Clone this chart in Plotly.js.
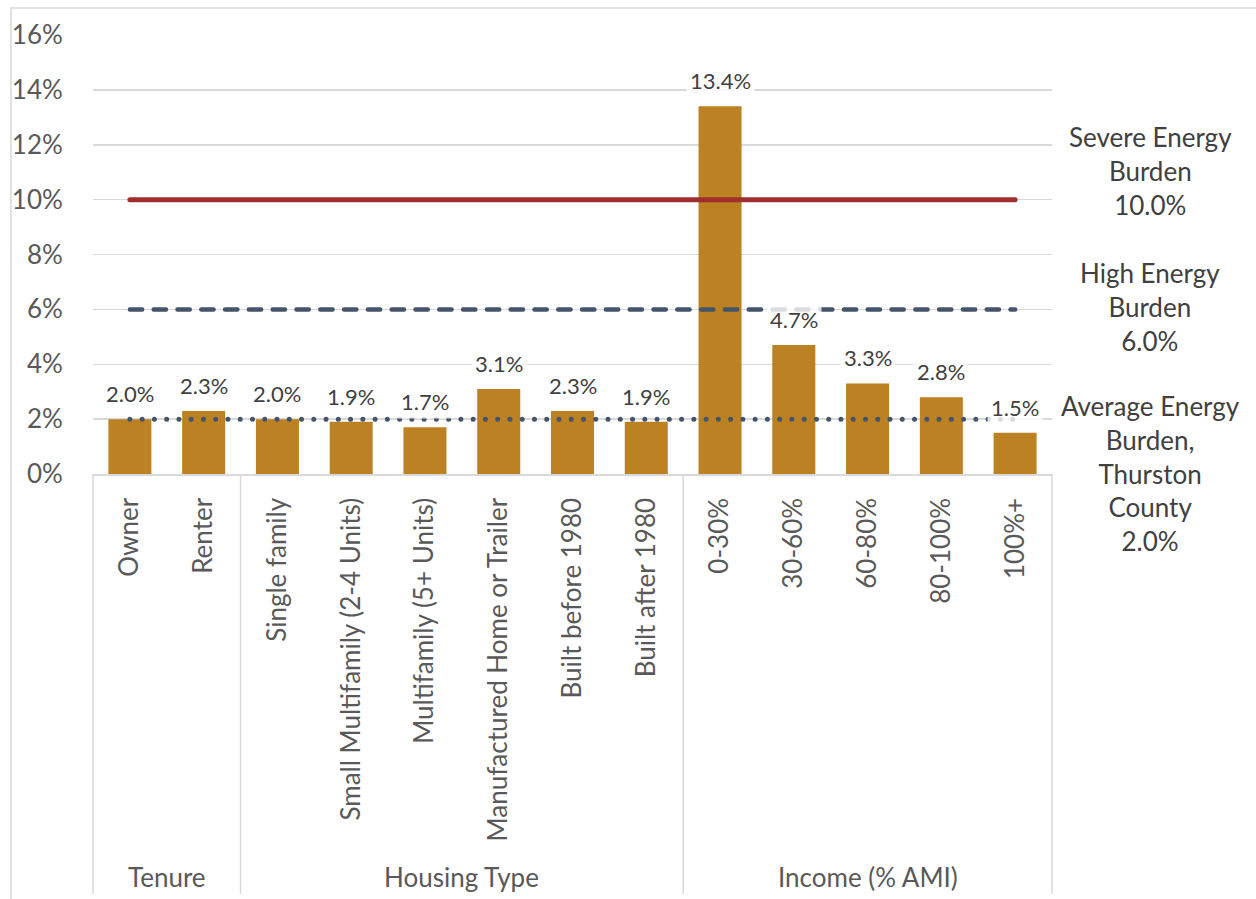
<!DOCTYPE html>
<html>
<head>
<meta charset="utf-8">
<script src="https://cdn.plot.ly/plotly-3.0.1.min.js"></script>
<style>
  html, body { margin: 0; padding: 0; background: #ffffff; }
  #chart { width: 1256px; height: 899px; }
  .js-line { stroke-linecap: round; }
</style>
</head>
<body>
<div id="chart"></div>
<script>
// ---- data ----
const categories = ['Owner', 'Renter', 'Single family', 'Small Multifamily (2-4 Units)',
  'Multifamily (5+ Units)', 'Manufactured Home or Trailer', 'Built before 1980',
  'Built after 1980', '0-30%', '30-60%', '60-80%', '80-100%', '100%+'];
const burden = [0.020, 0.023, 0.020, 0.019, 0.017, 0.031, 0.023, 0.019,
  0.134, 0.047, 0.033, 0.028, 0.015];
const groupNames = ['Tenure', 'Housing Type', 'Income (% AMI)'];
const groupSizes = [2, 6, 5];
const refNames = ['Severe Energy<br>Burden', 'High Energy<br>Burden',
  'Average Energy<br>Burden,<br>Thurston<br>County'];
const refValues = [0.10, 0.06, 0.02];
const yTicks = [0, 0.02, 0.04, 0.06, 0.08, 0.10, 0.12, 0.14, 0.16];

// ---- styles ----
const FONT = 'Lato, "Open Sans", sans-serif';
const AXIS_TXT = '#595959';
const LBL_TXT = '#404040';
const GRID = '#d9d9d9';
const BAR = '#BC8123';
const refStyles = [
  {color: '#9E2F2C', width: 5, dash: 'solid'},
  {color: '#44546A', width: 4.5, dash: '12.3px,11.5px'},
  {color: '#44546A', width: 5, dash: '0.01px,12.25px'}
];
const refLabelY = [0.690, 0.380, 0.002];

const pct1 = v => (v * 100).toFixed(1) + '%';

const traces = [{
  type: 'bar',
  x: categories,
  y: burden,
  marker: {color: BAR},
  hoverinfo: 'skip',
  showlegend: false
}];
refValues.forEach((v, i) => {
  traces.push({
    type: 'scatter',
    mode: 'lines',
    x: [categories[0], categories[categories.length - 1]],
    y: [v, v],
    line: refStyles[i],
    hoverinfo: 'skip',
    showlegend: false
  });
});

const annotations = [];
// data labels
burden.forEach((v, i) => {
  annotations.push({
    x: categories[i], y: v, xref: 'x', yref: 'y',
    text: pct1(v), showarrow: false,
    yanchor: 'bottom', yshift: 8,
    bgcolor: 'rgba(255,255,255,0.8)', borderpad: 3,
    font: {family: FONT, size: 22, color: LBL_TXT}
  });
});
// reference line labels
refValues.forEach((v, i) => {
  annotations.push({
    x: 1.1022, xref: 'paper', y: refLabelY[i], yref: 'paper',
    text: refNames[i] + '<br>' + pct1(v), showarrow: false,
    xanchor: 'center', yanchor: 'middle', align: 'center',
    font: {family: FONT, size: 26, color: LBL_TXT}
  });
});
// group labels + dividers
const n = categories.length;
const shapes = [];
let start = 0;
const divBottom = -0.957;
shapes.push({type: 'line', xref: 'paper', yref: 'paper', x0: 0, x1: 0, y0: 0, y1: divBottom,
  line: {color: GRID, width: 1.5}});
groupNames.forEach((g, i) => {
  const end = start + groupSizes[i];
  annotations.push({
    x: (start + end) / 2 / n, xref: 'paper', y: -0.918, yref: 'paper',
    text: g, showarrow: false, xanchor: 'center', yanchor: 'middle',
    font: {family: FONT, size: 26, color: AXIS_TXT}
  });
  shapes.push({type: 'line', xref: 'paper', yref: 'paper', x0: end / n, x1: end / n,
    y0: 0, y1: divBottom, line: {color: GRID, width: 1.5}});
  start = end;
});
// outer chart border
shapes.push({type: 'rect', xref: 'paper', yref: 'paper', x0: -0.0855, x1: 1.25,
  y0: 1.0615, y1: -1.2, line: {color: GRID, width: 1.5}, fillcolor: 'rgba(0,0,0,0)'});

const layout = {
  width: 1256, height: 899,
  margin: {l: 93, r: 204, t: 35, b: 425, pad: 0},
  paper_bgcolor: '#ffffff', plot_bgcolor: '#ffffff',
  bargap: 0.417,
  showlegend: false,
  font: {family: FONT, color: AXIS_TXT},
  xaxis: {
    type: 'category',
    tickangle: -90,
    tickfont: {family: FONT, size: 26, color: AXIS_TXT},
    ticks: 'outside', ticklen: 12, tickcolor: 'rgba(0,0,0,0)',
    showline: true, linecolor: GRID, linewidth: 1.5,
    showgrid: false, zeroline: false, fixedrange: true
  },
  yaxis: {
    range: [0, 0.16],
    tickvals: yTicks,
    tickformat: '.0%',
    tickfont: {family: FONT, size: 26, color: AXIS_TXT},
    ticks: 'outside', ticklen: 24, tickcolor: 'rgba(0,0,0,0)',
    showgrid: true, gridcolor: GRID, gridwidth: 1.5,
    zeroline: false, showline: false, fixedrange: true
  },
  annotations: annotations,
  shapes: shapes
};

Plotly.newPlot('chart', traces, layout, {displayModeBar: false, staticPlot: true});
</script>
</body>
</html>
